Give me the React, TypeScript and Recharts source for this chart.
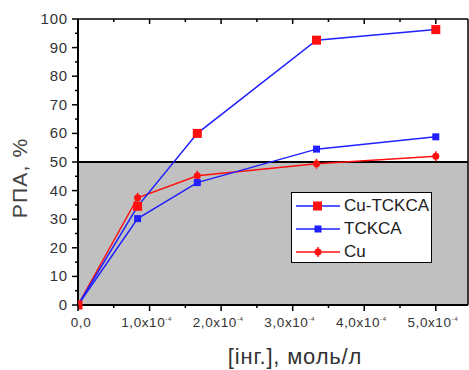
import React from "react";
import { LineChart, Line, XAxis, YAxis, ReferenceArea, ReferenceLine } from "recharts";

// concentration, x10^-4 mol/l
const concentrations = [0, 0.833, 1.667, 3.333, 5.0];
// РПА, %
const cuTckca = [0, 34.5, 60, 92.6, 96.3];
const tckca = [0, 30.2, 42.8, 54.5, 58.8];
const cu = [0, 37.5, 45.2, 49.4, 52.0];

const xTicks = [0, 0.5, 1, 1.5, 2, 2.5, 3, 3.5, 4, 4.5, 5];
const xTickLabels: Record<number, string> = {
  0: "0,0",
  1: "1,0x10",
  2: "2,0x10",
  3: "3,0x10",
  4: "4,0x10",
  5: "5,0x10",
};
const yTicks = [0, 5, 10, 15, 20, 25, 30, 35, 40, 45, 50, 55, 60, 65, 70, 75, 80, 85, 90, 95, 100];

const FONT = "'Liberation Sans', Arial, sans-serif";
const BLUE = "#1f1fff";
const RED = "#ff1010";

const data = concentrations.map((c, i) => ({
  c,
  cuTckca: cuTckca[i],
  tckca: tckca[i],
  cu: cu[i],
}));

const BottomTick = ({ x, y, payload }: any) => {
  const v = payload.value;
  const major = Number.isInteger(v);
  return (
    <g>
      <line x1={x} x2={x} y1={y} y2={y + (major ? 6 : 3)} stroke="#000" strokeWidth={1.5} />
      {major && (
        <text
          x={v === 0 ? x + 3 : x - 3}
          y={y + 22}
          textAnchor="middle"
          fontSize={13.5}
          letterSpacing={0.6}
          fill="#333"
          fontFamily={FONT}
        >
          {xTickLabels[v]}
          {v !== 0 && (
            <tspan dy={-6} fontSize={6}>
              -4
            </tspan>
          )}
        </text>
      )}
    </g>
  );
};

const TopTick = ({ x, y, payload }: any) => {
  const major = Number.isInteger(payload.value);
  return <line x1={x} x2={x} y1={y} y2={y + (major ? 5 : 3)} stroke="#000" strokeWidth={1.5} />;
};

const LeftTick = ({ x, y, payload }: any) => {
  const v = payload.value;
  const major = v % 10 === 0;
  return (
    <g>
      <line x1={x - (major ? 6 : 3)} x2={x} y1={y} y2={y} stroke="#000" strokeWidth={1.5} />
      {major && (
        <text x={x - 10} y={y + 5} textAnchor="end" fontSize={15} letterSpacing={0.8} fill="#333" fontFamily={FONT}>
          {v}
        </text>
      )}
    </g>
  );
};

const RightTick = ({ x, y, payload }: any) => {
  const major = payload.value % 10 === 0;
  return <line x1={x - (major ? 5 : 3)} x2={x} y1={y} y2={y} stroke="#000" strokeWidth={1.5} />;
};

const squareDot = (color: string, size: number) => (props: any) => {
  const { cx, cy, index } = props;
  return <rect key={`sq-${color}-${size}-${index}`} x={cx - size / 2} y={cy - size / 2} width={size} height={size} fill={color} />;
};

const cuDot = (props: any) => {
  const { cx, cy, index } = props;
  return (
    <g key={`cu-${index}`}>
      <line x1={cx} x2={cx} y1={cy - 5} y2={cy + 5} stroke={RED} strokeWidth={1.5} />
      <circle cx={cx} cy={cy} r={3.5} fill={RED} />
    </g>
  );
};

const legendItems = [
  { name: "Cu-TCKCA", line: BLUE, marker: RED, kind: "bigSquare" },
  { name: "TCKCA", line: BLUE, marker: BLUE, kind: "square" },
  { name: "Cu", line: RED, marker: RED, kind: "circle" },
];

const Swatch = ({ line, marker, kind }: any) => (
  <svg width={46} height={14} style={{ marginRight: 3 }}>
    <line x1={1} x2={45} y1={7} y2={7} stroke={line} strokeWidth={1.5} />
    {kind === "bigSquare" && <rect x={18} y={2.5} width={9} height={9} fill={marker} />}
    {kind === "square" && <rect x={19.5} y={3.5} width={7} height={7} fill={marker} />}
    {kind === "circle" && (
      <g>
        <line x1={23} x2={23} y1={2} y2={12} stroke={marker} strokeWidth={1.5} />
        <circle cx={23} cy={7} r={3.5} fill={marker} />
      </g>
    )}
  </svg>
);

export default function App() {
  return (
    <div style={{ position: "absolute", left: 0, top: 0, width: 469, height: 370, background: "#fff" }}>
      <LineChart width={469} height={370} data={data} margin={{ top: 18, right: 0, bottom: 0, left: 0 }}>
        <ReferenceArea x1={0} x2={5.45} y1={0} y2={50} fill="#c0c0c0" fillOpacity={1} stroke="none" ifOverflow="hidden" />
        <ReferenceLine y={50} stroke="#000" strokeWidth={2} />
        <XAxis
          dataKey="c"
          type="number"
          domain={[0, 5.45]}
          ticks={xTicks}
          allowDataOverflow
          height={65}
          tickSize={0}
          tickMargin={0}
          tick={<BottomTick />}
          axisLine={{ stroke: "#000", strokeWidth: 2 }}
          tickLine={false}
          interval={0}
          label={{
            value: "[інг.], моль/л",
            position: "insideBottom",
            offset: 6,
            dx: 22,
            fontSize: 22,
            letterSpacing: 0.8,
            fill: "#333",
            fontFamily: FONT,
          }}
        />
        <XAxis
          xAxisId="top"
          dataKey="c"
          type="number"
          orientation="top"
          domain={[0, 5.45]}
          ticks={xTicks}
          allowDataOverflow
          height={1}
          tickSize={0}
          tickMargin={0}
          tick={<TopTick />}
          axisLine={{ stroke: "#000", strokeWidth: 1.5 }}
          tickLine={false}
          interval={0}
        />
        <YAxis
          type="number"
          domain={[0, 100]}
          ticks={yTicks}
          width={78}
          tickSize={0}
          tickMargin={0}
          tick={<LeftTick />}
          axisLine={{ stroke: "#000", strokeWidth: 2 }}
          tickLine={false}
          interval={0}
          label={{
            value: "РПА, %",
            angle: -90,
            position: "insideLeft",
            offset: 20,
            dy: 16,
            fontSize: 21,
            letterSpacing: 1.2,
            fill: "#444",
            fontFamily: FONT,
            style: { textAnchor: "middle" },
          }}
        />
        <YAxis
          yAxisId="r"
          orientation="right"
          type="number"
          domain={[0, 100]}
          ticks={yTicks}
          width={1}
          tickSize={0}
          tickMargin={0}
          tick={<RightTick />}
          axisLine={{ stroke: "#000", strokeWidth: 1.5 }}
          tickLine={false}
          interval={0}
        />
        <Line dataKey="cu" stroke={RED} strokeWidth={1.5} dot={cuDot} isAnimationActive={false} />
        <Line dataKey="tckca" stroke={BLUE} strokeWidth={1.5} dot={squareDot(BLUE, 7)} isAnimationActive={false} />
        <Line dataKey="cuTckca" stroke={BLUE} strokeWidth={1.5} dot={squareDot(RED, 9)} isAnimationActive={false} />
      </LineChart>
      <div
        style={{
          position: "absolute",
          left: 291,
          top: 192,
          width: 141,
          height: 71,
          boxSizing: "border-box",
          border: "1.5px solid #000",
          background: "#fff",
          padding: "1px 0 0 3px",
          fontFamily: FONT,
          fontSize: 17,
          color: "#222",
        }}
      >
        {legendItems.map((item) => (
          <div key={item.name} style={{ display: "flex", alignItems: "center", height: 23 }}>
            <Swatch {...item} />
            <span>{item.name}</span>
          </div>
        ))}
      </div>
    </div>
  );
}
